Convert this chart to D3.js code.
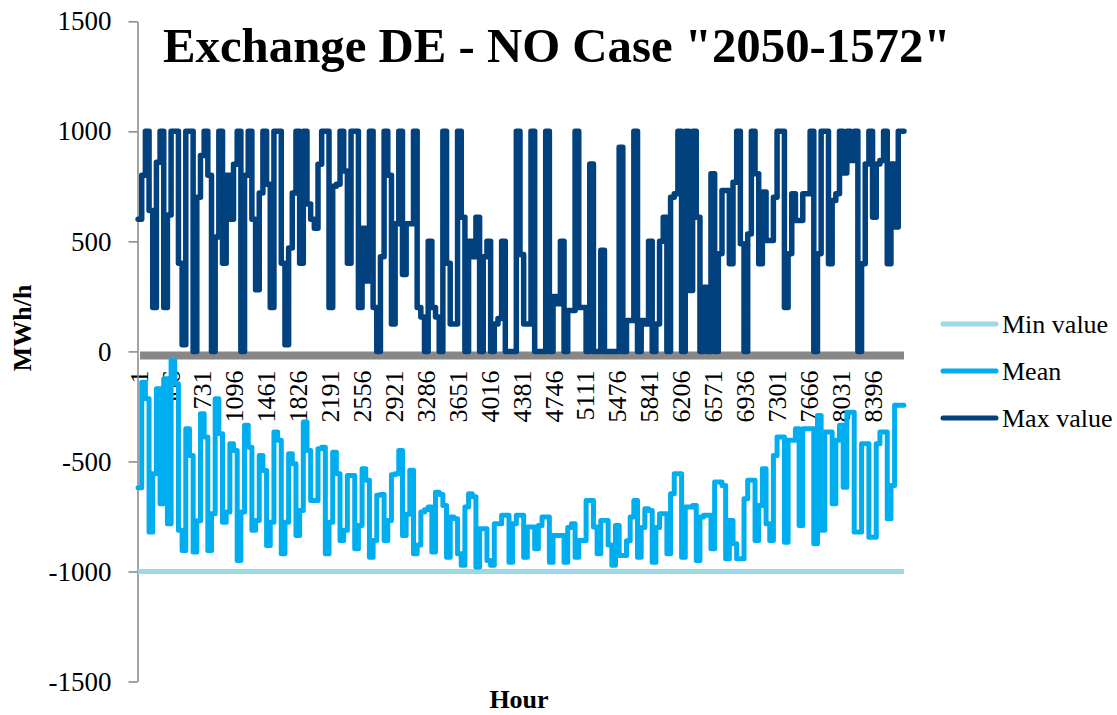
<!DOCTYPE html>
<html>
<head>
<meta charset="utf-8">
<script src="https://cdn.jsdelivr.net/npm/d3@7"></script>
<style>
  body { margin: 0; background: #ffffff; }
  svg { display: block; }
  text { font-family: "Liberation Serif", "Times New Roman", serif; fill: #000; }
</style>
</head>
<body>
<svg id="chart" width="1117" height="715"></svg>
<script>
// ---------------- DATA ----------------
const chartTitle = 'Exchange DE - NO Case "2050-1572"';
const yAxisTitle = "MWh/h";
const xAxisTitle = "Hour";
const hoursInYear = 8760;
const blockHours = 42; // each value below holds for 42 consecutive hours
const xTickLabels = [1, 366, 731, 1096, 1461, 1826, 2191, 2556, 2921, 3286, 3651, 4016,
  4381, 4746, 5111, 5476, 5841, 6206, 6571, 6936, 7301, 7666, 8031, 8396];
const yTicks = [-1500, -1000, -500, 0, 500, 1000, 1500];
const seriesNames = ["Min value", "Mean", "Max value"];

const minHours = [1, 8760];
const minValues = [-1000, -1000];

const meanValues = [
  -620, -140, -215, -821, -556, -170, -692, -124, -783, -41,
  -147, -813, -905, -351, -473, -912, -770, -283, -389, -905,
  -738, -215, -374, -776, -730, -420, -450, -950, -730, -336,
  -435, -813, -768, -473, -541, -882, -776, -366, -404, -920,
  -776, -465, -510, -836, -723, -321, -450, -677, -677, -442,
  -435, -920, -776, -458, -556, -859, -813, -564, -564, -897,
  -791, -533, -586, -935, -859, -654, -650, -859, -768, -560,
  -556, -450, -836, -740, -540, -920, -880, -730, -720, -707,
  -912, -640, -650, -700, -935, -753, -760, -920, -972, -707,
  -647, -660, -980, -806, -806, -950, -972, -783, -783, -745,
  -745, -958, -783, -745, -745, -935, -798, -798, -897, -791,
  -753, -753, -958, -836, -836, -836, -958, -800, -783, -935,
  -859, -859, -677, -677, -798, -920, -768, -768, -880, -972,
  -791, -927, -927, -860, -753, -677, -935, -800, -715, -723,
  -958, -800, -738, -738, -920, -647, -556, -556, -935, -707,
  -707, -700, -950, -753, -745, -745, -897, -594, -594, -609,
  -942, -768, -874, -942, -942, -670, -586, -586, -859, -700,
  -533, -783, -859, -473, -389, -389, -867, -404, -404, -351,
  -791, -351, -351, -351, -874, -291, -813, -366, -366, -692,
  -404, -336, -617, -276, -276, -821, -821, -420, -420, -844,
  -844, -420, -366, -366, -760, -609, -245, -245, -245
];

const maxValues = [
  600, 800, 1000, 640, 200, 860, 1000, 200, 620, 1000,
  1000, 400, 30, 1000, 1000, 0, 700, 890, 1000, 800,
  0, 520, 1000, 400, 800, 600, 850, 1000, 0, 800,
  1000, 600, 280, 720, 1000, 760, 200, 1000, 1000, 400,
  30, 470, 720, 1000, 400, 1000, 670, 600, 560, 850,
  1000, 1000, 200, 750, 760, 1000, 820, 400, 1000, 1000,
  200, 560, 320, 1000, 200, 0, 430, 1000, 800, 125,
  580, 1000, 350, 580, 580, 1000, 200, 156, 0, 500,
  200, 156, 0, 1000, 400, 125, 125, 1000, 610, 0,
  500, 430, 610, 0, 430, 500, 0, 125, 150, 500,
  0, 0, 0, 1000, 440, 125, 125, 1000, 0, 0,
  0, 1000, 0, 250, 216, 500, 0, 186, 186, 1000,
  200, 200, 0, 852, 0, 0, 460, 0, 0, 0,
  0, 928, 0, 140, 140, 1000, 0, 140, 125, 500,
  0, 125, 500, 610, 0, 700, 716, 1000, 0, 1000,
  277, 1000, 610, 0, 292, 0, 807, 0, 444, 731,
  731, 398, 769, 1000, 489, 0, 534, 1000, 807, 398,
  724, 504, 504, 701, 1000, 1000, 200, 444, 716, 595,
  595, 716, 716, 1000, 0, 444, 1000, 1000, 398, 686,
  716, 1000, 811, 1000, 868, 1000, 0, 398, 852, 1000,
  610, 852, 868, 1000, 398, 852, 565, 1000, 1000
];

const colors = { min: "#9cd9e5", mean: "#00aeef", max: "#00417e", band: "#878787", axis: "#868686" };

// ---------------- CHART ----------------
const svg = d3.select("#chart");

const x = d3.scaleLinear().domain([0.5, hoursInYear + 0.5]).range([138, 904]);
const y = d3.scaleLinear().domain([-1500, 1500]).range([681.5, 21.3]);

function blockPoints(values) {
  const pts = values.map((v, i) => ({ h: i * blockHours + 1, v }));
  pts.push({ h: hoursInYear, v: values[values.length - 1] });
  return pts;
}

// horizontal (category) axis drawn at zero as thick gray band
const xAxis = d3.axisBottom(x).tickValues(xTickLabels).tickSize(0).tickFormat(d => String(d));
const gx = svg.append("g").attr("transform", `translate(0,${y(0)})`).call(xAxis);
gx.select(".domain").remove();
gx.selectAll(".tick text")
  .attr("transform", "rotate(-90)")
  .attr("x", -19)
  .attr("y", 0)
  .attr("dy", "0.35em")
  .style("text-anchor", "end")
  .style("font-size", "26px")
  .style("font-family", '"Liberation Serif", serif');

svg.append("line")
  .attr("x1", x.range()[0] + 2).attr("x2", x.range()[1])
  .attr("y1", y(0) + 4).attr("y2", y(0) + 4)
  .attr("stroke", colors.band).attr("stroke-width", 8);

// vertical axis
const yAxis = d3.axisLeft(y).tickValues(yTicks).tickSize(9).tickSizeOuter(0).tickPadding(17)
  .tickFormat(d => String(d));
const gy = svg.append("g").attr("transform", "translate(137.5,0)").call(yAxis);
gy.select(".domain").attr("stroke", colors.axis).attr("stroke-width", 1.5);
gy.selectAll(".tick line").attr("stroke", colors.axis).attr("stroke-width", 1.5);
gy.selectAll(".tick text")
  .style("font-size", "27px")
  .style("font-family", '"Liberation Serif", serif');

// series
const stepLine = d3.line().x(d => x(d.h)).y(d => y(d.v)).curve(d3.curveStepAfter);
const plainLine = d3.line().x(d => x(d.h)).y(d => y(d.v));

svg.append("path")
  .datum(minHours.map((h, i) => ({ h, v: minValues[i] })))
  .attr("d", plainLine)
  .attr("fill", "none").attr("stroke", colors.min).attr("stroke-width", 5);

svg.append("path")
  .datum(blockPoints(meanValues))
  .attr("d", stepLine)
  .attr("fill", "none").attr("stroke", colors.mean).attr("stroke-width", 5)
  .attr("stroke-linejoin", "round").attr("stroke-linecap", "round");

svg.append("path")
  .datum(blockPoints(maxValues))
  .attr("d", stepLine)
  .attr("fill", "none").attr("stroke", colors.max).attr("stroke-width", 5.5)
  .attr("stroke-linejoin", "round").attr("stroke-linecap", "round");

// titles
svg.append("text")
  .attr("x", 163).attr("y", 62)
  .style("font-size", "48.8px").style("font-weight", "bold")
  .text(chartTitle);

svg.append("text")
  .attr("transform", "translate(31,328) rotate(-90)")
  .attr("text-anchor", "middle")
  .style("font-size", "26px").style("font-weight", "bold")
  .text(yAxisTitle);

svg.append("text")
  .attr("x", 519).attr("y", 708)
  .attr("text-anchor", "middle")
  .style("font-size", "26px").style("font-weight", "bold")
  .text(xAxisTitle);

// legend
const legendColors = [colors.min, colors.mean, colors.max];
const legendY = [324, 371, 418];
const lg = svg.append("g");
seriesNames.forEach((name, i) => {
  lg.append("line")
    .attr("x1", 943).attr("x2", 996)
    .attr("y1", legendY[i]).attr("y2", legendY[i])
    .attr("stroke", legendColors[i]).attr("stroke-width", 5).attr("stroke-linecap", "round");
  lg.append("text")
    .attr("x", 1002).attr("y", legendY[i]).attr("dy", "0.35em")
    .style("font-size", "26px")
    .text(name);
});
</script>
</body>
</html>
